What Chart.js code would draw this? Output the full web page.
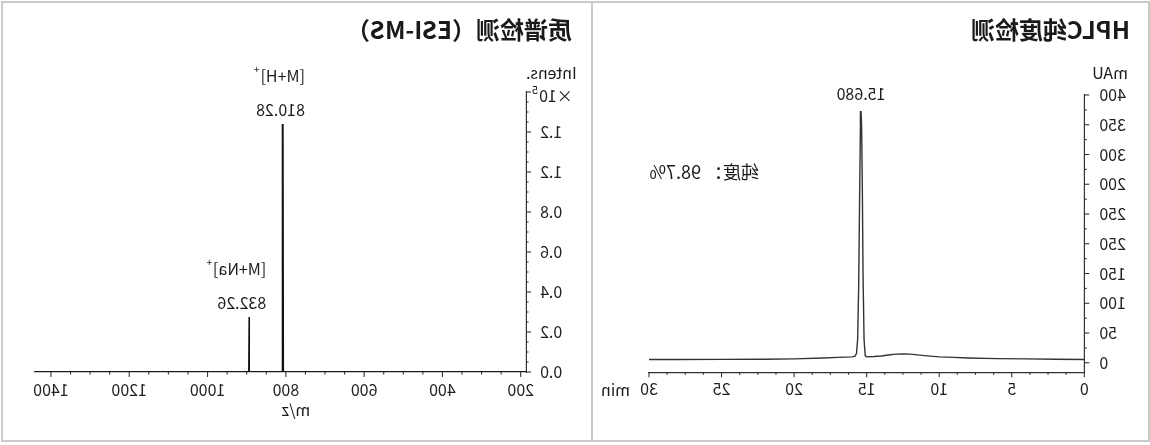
<!DOCTYPE html>
<html>
<head>
<meta charset="utf-8">
<script src="https://cdn.jsdelivr.net/npm/chart.js@4.4.1/dist/chart.umd.min.js"></script>
<style>
html, body { margin: 0; padding: 0; background: #fff; }
#page { position: relative; width: 1150px; height: 445px; overflow: hidden; transform: scaleX(-1); background: #fff; }
#frame { position: absolute; left: 0; top: 1px; width: 1149px; height: 441px; border: 2px solid #cacaca; box-sizing: border-box; }
#divider { position: absolute; left: 557px; top: 1px; width: 2px; height: 441px; background: #cacaca; }
.panel { position: absolute; top: 0; }
</style>
</head>
<body>
<div id="page">
  <div id="frame"></div>
  <div id="divider"></div>
  <div class="panel" style="left:0px"><canvas id="hplc" width="558" height="445"></canvas></div>
  <div class="panel" style="left:558px"><canvas id="esi" width="592" height="445"></canvas></div>
</div>
<script>
// HPLC trace (min, mAU)
var hplcTime = [0, 2, 4, 6, 8, 9, 10, 11, 12, 12.5, 13, 13.5, 14, 14.5, 15.0, 15.1, 15.18, 15.25, 15.3, 15.35, 15.39, 15.43, 15.48, 15.55, 15.62, 15.7, 15.8, 16.0, 16.5, 17, 18, 20, 22, 25, 28, 30];
var hplcSignal = [5.5, 6, 6.5, 7, 8, 9, 10, 12, 14.5, 15, 14.5, 13, 11.5, 10.5, 10, 12, 40, 150, 300, 400, 423, 395, 290, 130, 40, 16, 11, 10, 9.5, 9, 8, 6.5, 6, 5.7, 5.5, 5.5];
var hplcXTicks = [0, 5, 10, 15, 20, 25, 30];
var hplcYTicks = [0, 50, 100, 150, 200, 250, 300, 350, 400, 450];
var hplcYLabels = ['0', '50', '100', '150', '250', '250', '200', '300', '350', '400'];
var hplcPeakTime = 15.39;
var hplcPeakLabel = '15.680';
var purityText = '纯度： 98.7%';

// ESI-MS spectrum (m/z, intensity x10^5)
var msMz = [186.5, 806.5, 807.5, 808.5, 892.5, 893.5, 894.5, 1442];
var msIntensity = [0, 0, 1.24, 0, 0, 0.275, 0, 0];
var msXTicks = [200, 400, 600, 800, 1000, 1200, 1400];
var msYTicks = [0, 0.2, 0.4, 0.6, 0.8, 1.0, 1.2];
var msYLabels = ['0.0', '0.2', '0.4', '0.6', '0.8', '1.2', '1.2'];
var msPeaks = [
    { mz: 807.5, value: 1.24, ion: '[M+H]', mass: '810.28' },
    { mz: 893.5, value: 0.275, ion: '[M+Na]', mass: '832.26' }
];

var FONT = '"Noto Sans CJK SC", "Noto Sans", sans-serif';

function xy(xs, ys) {
    var out = [];
    for (var i = 0; i < xs.length; i++) out.push({ x: xs[i], y: ys[i] });
    return out;
}

function fixedTicks(values) {
    return function (scale) {
        scale.ticks = values.map(function (v) { return { value: v }; });
    };
}

function plain(v) { return String(v); }

// minor / major tick marks drawn outward from the axis lines
var tickMarks = {
    id: 'tickMarks',
    afterDraw: function (chart, args, o) {
        var ctx = chart.ctx, xs = chart.scales.x, ys = chart.scales.y;
        ctx.save();
        ctx.strokeStyle = '#333';
        ctx.lineWidth = 1.1;
        var n, i, v, major, p;
        n = Math.round((o.x[1] - o.x[0]) / o.x[2]);
        for (i = 0; i <= n; i++) {
            v = o.x[0] + i * o.x[2];
            major = Math.abs(v / o.x[3] - Math.round(v / o.x[3])) < 1e-6;
            p = xs.getPixelForValue(v);
            ctx.beginPath();
            ctx.moveTo(p, ys.bottom);
            ctx.lineTo(p, ys.bottom + (major ? 5 : 2.5));
            ctx.stroke();
        }
        n = Math.round((o.y[1] - o.y[0]) / o.y[2]);
        for (i = 0; i <= n; i++) {
            v = o.y[0] + i * o.y[2];
            major = Math.abs(v / o.y[3] - Math.round(v / o.y[3])) < 1e-6;
            p = ys.getPixelForValue(v);
            ctx.beginPath();
            ctx.moveTo(xs.left, p);
            ctx.lineTo(xs.left - (major ? 5 : 2.5), p);
            ctx.stroke();
        }
        ctx.restore();
    }
};

function text(ctx, s, x, y, size, align, weight) {
    ctx.font = (weight || 'normal') + ' ' + size + 'px ' + FONT;
    ctx.textAlign = align || 'left';
    ctx.textBaseline = 'middle';
    ctx.fillStyle = '#1a1a1a';
    ctx.fillText(s, x, y);
    return ctx.measureText(s).width;
}

var hplcText = {
    id: 'hplcText',
    afterDraw: function (chart) {
        var ctx = chart.ctx;
        ctx.save();
        text(ctx, 'HPLC纯度检测', 20, 30, 24, 'left', 'bold');
        text(ctx, 'mAU', 40, 73, 16, 'center');
        text(ctx, 'min', 520, 390, 16, 'left');
        text(ctx, hplcPeakLabel, chart.scales.x.getPixelForValue(hplcPeakTime), 94, 16, 'center');
        text(ctx, purityText, 391, 172, 18, 'left');
        ctx.restore();
    }
};

var msText = {
    id: 'msText',
    afterDraw: function (chart) {
        var ctx = chart.ctx, xs = chart.scales.x, ys = chart.scales.y;
        ctx.save();
        text(ctx, '质谱检测（ESI-MS）', 20, 30, 24, 'left', 'bold');
        text(ctx, 'Intens.', 66, 73, 16, 'right');
        text(ctx, '×10', 53, 96, 16, 'right');
        text(ctx, '5', 54, 90, 11, 'left');
        text(ctx, 'm/z', 296, 410, 16, 'center');
        var offs = [-22, -17];
        msPeaks.forEach(function (pk, i) {
            var x = xs.getPixelForValue(pk.mz) + offs[i];
            var top = ys.getPixelForValue(pk.value);
            var w = text(ctx, pk.ion, x, top - 48, 16, 'left');
            text(ctx, '+', x + w + 1, top - 55, 10, 'left');
            text(ctx, pk.mass, x, top - 14, 16, 'left');
        });
        ctx.restore();
    }
};

var tickFont = { family: FONT, size: 16 };

new Chart(document.getElementById('hplc'), {
    type: 'line',
    data: {
        datasets: [{
            data: xy(hplcTime, hplcSignal),
            borderColor: '#333',
            borderWidth: 1.4,
            pointRadius: 0,
            tension: 0,
            fill: false
        }]
    },
    options: {
        responsive: false,
        animation: false,
        events: [],
        layout: { padding: { left: 0, right: 57, top: 95, bottom: 0 } },
        plugins: {
            legend: { display: false },
            tooltip: { enabled: false },
            tickMarks: { x: [0, 30, 1.25, 5], y: [0, 450, 25, 50] }
        },
        scales: {
            x: {
                type: 'linear', min: 0, max: 30,
                afterBuildTicks: fixedTicks(hplcXTicks),
                afterFit: function (s) { s.height = 72.7; },
                grid: { display: false, drawTicks: false },
                border: { display: true, color: '#333', width: 1.2 },
                ticks: { font: tickFont, color: '#222', padding: 7, maxRotation: 0, callback: plain }
            },
            y: {
                type: 'linear', min: -16, max: 450,
                afterBuildTicks: fixedTicks(hplcYTicks),
                afterFit: function (s) { s.width = 65.7; },
                grid: { display: false, drawTicks: false },
                border: { display: true, color: '#333', width: 1.2 },
                ticks: {
                    font: tickFont, color: '#222', padding: 15,
                    callback: function (v, i) { return hplcYLabels[i]; }
                }
            }
        }
    },
    plugins: [tickMarks, hplcText]
});

new Chart(document.getElementById('esi'), {
    type: 'line',
    data: {
        datasets: [{
            data: xy(msMz, msIntensity),
            borderColor: '#111',
            borderWidth: 1.6,
            pointRadius: 0,
            tension: 0,
            fill: false
        }]
    },
    options: {
        responsive: false,
        animation: false,
        events: [],
        layout: { padding: { left: 0, right: 34.5, top: 92, bottom: 0 } },
        plugins: {
            legend: { display: false },
            tooltip: { enabled: false },
            tickMarks: { x: [200, 1400, 50, 200], y: [0, 1.4, 0.05, 0.2] }
        },
        scales: {
            x: {
                type: 'linear', min: 186.5, max: 1442,
                afterBuildTicks: fixedTicks(msXTicks),
                afterFit: function (s) { s.height = 73; },
                grid: { display: false, drawTicks: false },
                border: { display: true, color: '#333', width: 1.2 },
                ticks: { font: tickFont, color: '#222', padding: 8, maxRotation: 0, callback: plain }
            },
            y: {
                type: 'linear', min: 0, max: 1.4,
                afterBuildTicks: fixedTicks(msYTicks),
                afterFit: function (s) { s.width = 66; },
                grid: { display: false, drawTicks: false },
                border: { display: true, color: '#333', width: 1.2 },
                ticks: {
                    font: tickFont, color: '#222', padding: 14,
                    callback: function (v, i) { return msYLabels[i]; }
                }
            }
        }
    },
    plugins: [tickMarks, msText]
});
</script>
</body>
</html>
